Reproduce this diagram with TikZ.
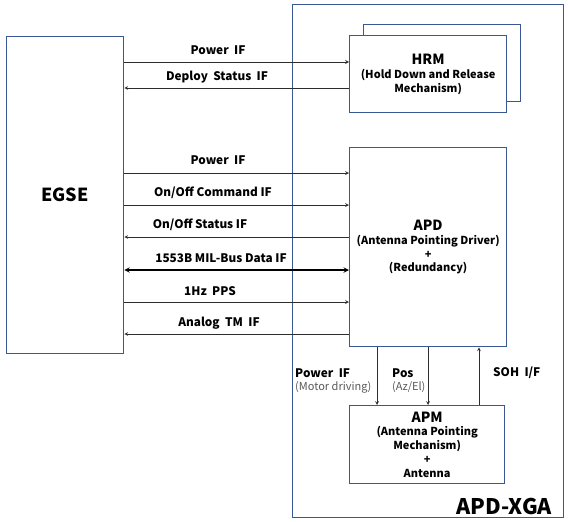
\documentclass[tikz,border=0pt]{standalone}
\usepackage{fontspec}
\setmainfont{Noto Sans CJK KR}
\usetikzlibrary{positioning,calc,arrows}
\definecolor{boxblue}{RGB}{58,88,148}
\definecolor{linegray}{RGB}{45,45,45}
\definecolor{notegray}{RGB}{90,90,90}
\tikzset{font=\bfseries}

\begin{document}
\begin{tikzpicture}[x=1pt,y=-1pt]
	\useasboundingbox (0,0) rectangle (568,522);
	\tikzstyle{blk}=[draw=boxblue, line width=1.3pt, fill=white, inner sep=0pt, align=center, anchor=north west]
	\tikzstyle{sig}=[draw=linegray, line width=0.7pt, ->, >=stealth]
	\tikzstyle{lbl}=[inner sep=1pt, font=\fontsize{11.8}{14}\selectfont\bfseries]
	\tikzstyle{note}=[inner sep=1pt, font=\fontsize{11}{13}\selectfont, text=notegray]

	% boxes
	\node[blk, minimum width=271, minimum height=513] (xga) at (292,4) {};
	\node[blk, minimum width=117, minimum height=317, font=\fontsize{18}{20}\selectfont\bfseries] (egse) at (6,36) {EGSE};
	\node[blk, minimum width=157, minimum height=77] (hrmback) at (363,24) {};
	\node[blk, minimum width=157, minimum height=77, font=\fontsize{11}{13.8}\selectfont\bfseries] (hrm) at (349,35)
		{{\fontsize{14}{16}\selectfont HRM}\\(Hold Down and Release\\Mechanism)};
	\node[blk, minimum width=157, minimum height=199, font=\fontsize{11}{13.8}\selectfont\bfseries] (apd) at (349,147)
		{{\fontsize{14}{16}\selectfont APD}\\(Antenna Pointing Driver)\\+\\(Redundancy)};
	\node[blk, minimum width=155, minimum height=78, font=\fontsize{11}{13.8}\selectfont\bfseries] (apm) at (349,405)
		{{\fontsize{14}{16}\selectfont APM}\\(Antenna Pointing\\Mechanism)\\+\\Antenna};
	\node[anchor=base east, inner sep=0pt, font=\fontsize{21.5}{24}\selectfont\bfseries] (xganame) at (552,514) {APD-XGA};

	% EGSE <-> HRM
	\draw[sig] (egse.east |- 0,62) -- (hrm.west |- 0,62);
	\node[lbl] (lhpwr) at (218,50) {Power\ \ IF};
	\draw[sig] (hrm.west |- 0,88) -- (egse.east |- 0,88);
	\node[lbl] (ldep) at (217,77) {Deploy\ \ Status\ \ IF};

	% EGSE <-> APD
	\draw[sig] (egse.east |- 0,173) -- (apd.west |- 0,173);
	\node[lbl] (lapwr) at (218,160) {Power\ \ IF};
	\draw[sig] (egse.east |- 0,205) -- (apd.west |- 0,205);
	\node[lbl] (lcmd) at (213,193) {On/Off Command IF};
	\draw[sig] (apd.west |- 0,237) -- (egse.east |- 0,237);
	\node[lbl] (lsts) at (200,225) {On/Off Status IF};
	\draw[sig, draw=black, line width=1.4pt, <->] (egse.east |- 0,270) -- (apd.west |- 0,270);
	\node[lbl] (lbus) at (221,258) {1553B MIL-Bus Data IF};
	\draw[sig] (egse.east |- 0,302) -- (apd.west |- 0,302);
	\node[lbl] (lpps) at (210,291) {1Hz\ \ PPS};
	\draw[sig] (apd.west |- 0,334) -- (egse.east |- 0,334);
	\node[lbl] (ltm) at (219,323) {Analog\ \ TM\ \ IF};

	% APD <-> APM
	\draw[sig] (apd.south -| 377,0) -- (apm.north -| 377,0);
	\draw[sig] (apd.south -| 428,0) -- (apm.north -| 428,0);
	\draw[sig] (apm.north -| 479,0) -- (apd.south -| 479,0);
	\node[lbl, anchor=west] (lmpwr) at (294,373) {Power\ \ IF};
	\node[note, anchor=west] (lmot) at (294,387) {(Motor driving)};
	\node[lbl, anchor=west] (lpos) at (391,373) {Pos};
	\node[note, anchor=west] (laz) at (391,387) {(Az/El)};
	\node[lbl, anchor=west] (lsoh) at (492,373) {SOH\ \ I/F};
\end{tikzpicture}
\end{document}
